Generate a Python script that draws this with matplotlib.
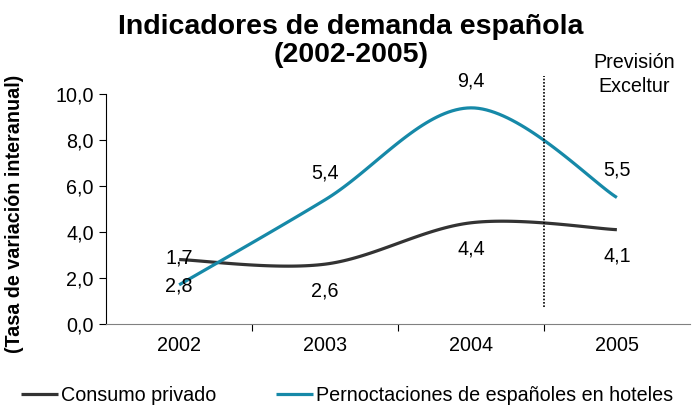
import numpy as np
import matplotlib.pyplot as plt

plt.rcParams['font.family'] = ['Liberation Sans', 'DejaVu Sans']

years = ['2002', '2003', '2004', '2005']
consumo = [2.8, 2.6, 4.4, 4.1]
pernoct = [1.7, 5.4, 9.4, 5.5]
yticks = [0, 2, 4, 6, 8, 10]


def smooth(xs, ys, n=40):
    # Bezier-Glättung wie in Excel (Catmull-Rom, Faktor 1/6)
    xs = np.asarray(xs, float)
    ys = np.asarray(ys, float)
    px, py = [], []
    for i in range(len(xs) - 1):
        x0, y0 = (xs[i - 1], ys[i - 1]) if i > 0 else (xs[i], ys[i])
        x3, y3 = (xs[i + 2], ys[i + 2]) if i + 2 < len(xs) else (xs[i + 1], ys[i + 1])
        x1, y1 = xs[i], ys[i]
        x2, y2 = xs[i + 1], ys[i + 1]
        c1x, c1y = x1 + (x2 - x0) / 6, y1 + (y2 - y0) / 6
        c2x, c2y = x2 - (x3 - x1) / 6, y2 - (y3 - y1) / 6
        t = np.linspace(0, 1, n)
        bx = (1 - t) ** 3 * x1 + 3 * (1 - t) ** 2 * t * c1x + 3 * (1 - t) * t ** 2 * c2x + t ** 3 * x2
        by = (1 - t) ** 3 * y1 + 3 * (1 - t) ** 2 * t * c1y + 3 * (1 - t) * t ** 2 * c2y + t ** 3 * y2
        px.extend(bx)
        py.extend(by)
    return np.array(px), np.array(py)


fs = 14.2

fig = plt.figure(figsize=(6.94, 4.09), dpi=100)
ax = fig.add_axes([0.153, 0.208, 0.841, 0.562])

x = np.arange(len(years))
c_dark = '#333333'
c_teal = '#1689a8'

sx, sy = smooth(x, consumo)
ax.plot(sx, sy, color=c_dark, lw=2.3, label='Consumo privado', clip_on=False,
        solid_capstyle='butt')
sx, sy = smooth(x, pernoct)
ax.plot(sx, sy, color=c_teal, lw=2.3, label='Pernoctaciones de españoles en hoteles',
        clip_on=False, solid_capstyle='butt')

for i, v in enumerate(consumo):
    ax.annotate(f'{v:.1f}'.replace('.', ','), (x[i], v), xytext=(0, -19),
                textcoords='offset points', ha='center', va='center', fontsize=fs,
                annotation_clip=False)
for i, v in enumerate(pernoct):
    ax.annotate(f'{v:.1f}'.replace('.', ','), (x[i], v), xytext=(0, 19.5),
                textcoords='offset points', ha='center', va='center', fontsize=fs,
                annotation_clip=False)

ax.plot([2.5, 2.5], [0.75, 10.8], color='black', lw=1.2, ls=(0, (1, 1)), clip_on=False)
ax.text(3.12, 10.85, 'Previsión\nExceltur', ha='center', va='center', fontsize=fs,
        linespacing=1.35)

ax.set_xlim(-0.5, 3.5)
ax.set_ylim(0, 10)
ax.set_yticks(yticks)
ax.set_yticklabels([f'{t:.1f}'.replace('.', ',') for t in yticks], fontsize=fs)
ax.set_xticks([0.5, 1.5, 2.5])
ax.set_xticklabels([])
ax.set_xticks(x, minor=True)
ax.set_xticklabels(years, minor=True, fontsize=fs)
ax.tick_params(axis='x', which='minor', length=0, pad=9)
ax.tick_params(axis='x', which='major', length=5, color='black')
ax.tick_params(axis='y', length=5, pad=4)

ax.spines['top'].set_visible(False)
ax.spines['right'].set_visible(False)
ax.spines['bottom'].set_color('#808080')

ax.set_ylabel('(Tasa de variación interanual)', fontsize=fs, fontweight='bold')
ax.yaxis.set_label_coords(-0.14, 0.48)

fig.text(0.506, 0.9, 'Indicadores de demanda española\n(2002-2005)', ha='center',
         va='center', fontsize=20.5, fontweight='bold', linespacing=1.12)

fig.legend(loc='center', bbox_to_anchor=(0.5, 0.034), ncol=2, frameon=False,
           fontsize=fs, handlelength=1.9, handletextpad=0.15, columnspacing=3.0)

fig.savefig('out.png', dpi=100)
